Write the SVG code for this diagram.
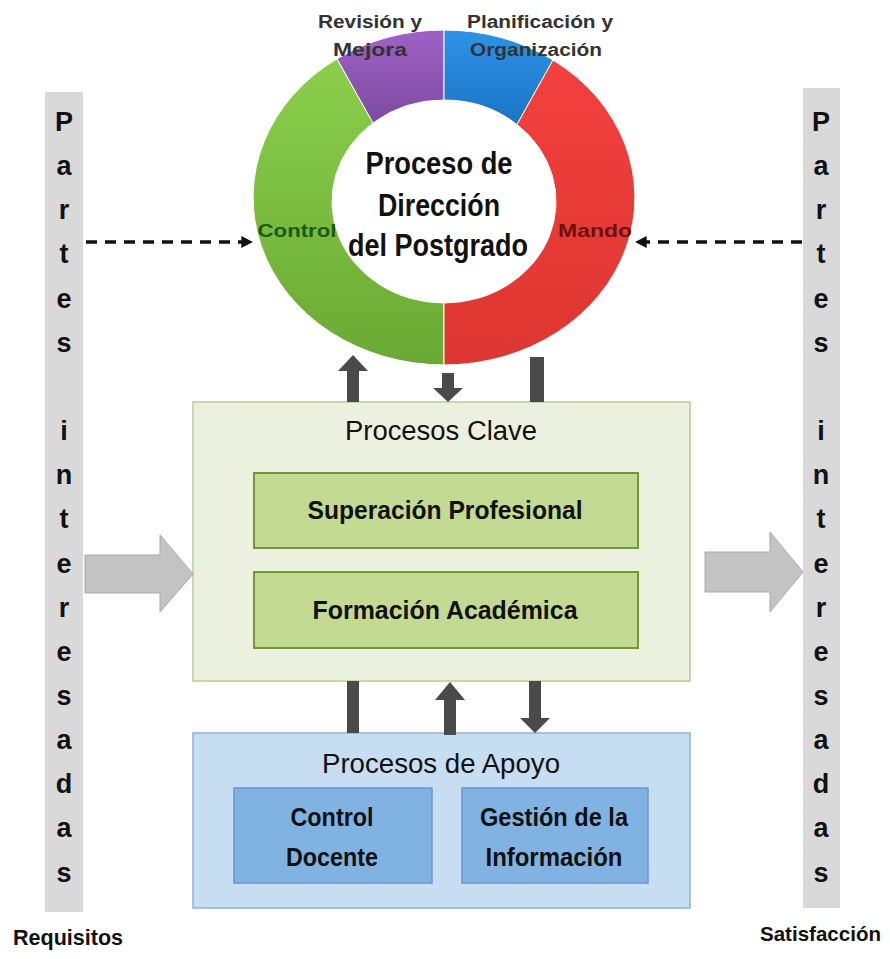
<svg xmlns="http://www.w3.org/2000/svg" width="890" height="959" viewBox="0 0 890 959">
<defs>
<linearGradient id="gGreen" x1="0" y1="0" x2="0" y2="1"><stop offset="0" stop-color="#8ccf4c"/><stop offset="1" stop-color="#6aa934"/></linearGradient>
<linearGradient id="gRed" x1="0" y1="0" x2="0" y2="1"><stop offset="0" stop-color="#f4403e"/><stop offset="1" stop-color="#dd3632"/></linearGradient>
<linearGradient id="gPurple" x1="0" y1="0" x2="0" y2="1"><stop offset="0" stop-color="#9e62c4"/><stop offset="1" stop-color="#7e4aa3"/></linearGradient>
<linearGradient id="gBlue" x1="0" y1="0" x2="0" y2="1"><stop offset="0" stop-color="#2e93e6"/><stop offset="1" stop-color="#1a74c6"/></linearGradient>
<marker id="dashHead" viewBox="0 0 10 10" refX="9" refY="5" markerWidth="3.4" markerHeight="3.4" orient="auto"><path d="M0,0 L10,5 L0,10 Z" fill="#111"/></marker>
<style>
text{font-family:"Liberation Sans",Arial,sans-serif;fill:#111}
.side{font-size:27px;font-weight:bold;text-anchor:middle}
.bar{fill:#d9d9d9}
.seg{stroke:#ffffff;stroke-width:1}
.rl{font-size:18px;font-weight:bold;fill:#333;text-anchor:middle}
.title{font-size:31px;font-weight:bold;text-anchor:middle}
.hdr{font-size:27px;text-anchor:middle}
.bx{font-size:25px;font-weight:bold;text-anchor:middle}
.dk{fill:#4a4a4a}
.dash{stroke:#111;stroke-width:3.5;stroke-dasharray:11 8;fill:none}
.big{fill:#c3c3c3;stroke:#a9a9a9;stroke-width:1}
</style>
</defs>

<g id="partes-izq">
<rect class="bar" x="45" y="92" width="38" height="820"/>
<text class="side" x="64" y="131">P</text>
<text class="side" x="64" y="175">a</text>
<text class="side" x="64" y="219">r</text>
<text class="side" x="64" y="263">t</text>
<text class="side" x="64" y="308">e</text>
<text class="side" x="64" y="352">s</text>
<text class="side" x="64" y="440">i</text>
<text class="side" x="64" y="484">n</text>
<text class="side" x="64" y="528">t</text>
<text class="side" x="64" y="573">e</text>
<text class="side" x="64" y="617">r</text>
<text class="side" x="64" y="661">e</text>
<text class="side" x="64" y="705">s</text>
<text class="side" x="64" y="749">a</text>
<text class="side" x="64" y="793">d</text>
<text class="side" x="64" y="837">a</text>
<text class="side" x="64" y="882">s</text>
</g>

<g id="partes-der">
<rect class="bar" x="803" y="88" width="37" height="820"/>
<text class="side" x="821" y="131">P</text>
<text class="side" x="821" y="175">a</text>
<text class="side" x="821" y="219">r</text>
<text class="side" x="821" y="263">t</text>
<text class="side" x="821" y="308">e</text>
<text class="side" x="821" y="352">s</text>
<text class="side" x="821" y="440">i</text>
<text class="side" x="821" y="484">n</text>
<text class="side" x="821" y="528">t</text>
<text class="side" x="821" y="573">e</text>
<text class="side" x="821" y="617">r</text>
<text class="side" x="821" y="661">e</text>
<text class="side" x="821" y="705">s</text>
<text class="side" x="821" y="749">a</text>
<text class="side" x="821" y="793">d</text>
<text class="side" x="821" y="837">a</text>
<text class="side" x="821" y="882">s</text>
</g>

<g id="proceso-direccion">
<path class="seg" fill="url(#gGreen)" d="M444,365 A191,167.5 0 0 1 337,58.8 L373,123 A112,101.5 0 0 0 444,303 Z"/>
<path class="seg" fill="url(#gPurple)" d="M337,58.8 A191,167.5 0 0 1 444,30 L444,100 A112,101.5 0 0 0 373,123 Z"/>
<path class="seg" fill="url(#gBlue)" d="M444,30 A191,167.5 0 0 1 553,60 L517,124.5 A112,101.5 0 0 0 444,100 Z"/>
<path class="seg" fill="url(#gRed)" d="M553,60 A191,167.5 0 0 1 444,365 L444,303 A112,101.5 0 0 0 517,124.5 Z"/>
<text class="rl" x="370" y="28" textLength="104" lengthAdjust="spacingAndGlyphs">Revisión y</text>
<text class="rl" x="370" y="56" textLength="74" lengthAdjust="spacingAndGlyphs">Mejora</text>
<text class="rl" x="540" y="28" textLength="146" lengthAdjust="spacingAndGlyphs">Planificación y</text>
<text class="rl" x="536" y="56" textLength="132" lengthAdjust="spacingAndGlyphs">Organización</text>
<text class="rl" x="297" y="237" style="fill:#1b5a12" textLength="79" lengthAdjust="spacingAndGlyphs">Control</text>
<text class="rl" x="595" y="237" style="fill:#6e1010" textLength="74" lengthAdjust="spacingAndGlyphs">Mando</text>
<text class="title" x="439" y="174" textLength="147" lengthAdjust="spacingAndGlyphs">Proceso de</text>
<text class="title" x="439" y="216" textLength="122" lengthAdjust="spacingAndGlyphs">Dirección</text>
<text class="title" x="438" y="256" textLength="180" lengthAdjust="spacingAndGlyphs">del Postgrado</text>
</g>

<g id="procesos-clave">
<rect x="193" y="402" width="497" height="279" fill="#ebf1de" stroke="#b8cc94" stroke-width="1.5"/>
<text class="hdr" x="441" y="440" textLength="192" lengthAdjust="spacingAndGlyphs">Procesos Clave</text>
</g>
<g id="superacion-profesional">
<rect x="254" y="473" width="384" height="75" fill="#c3da93" stroke="#6c9a36" stroke-width="2"/>
<text class="bx" x="445" y="519" textLength="275" lengthAdjust="spacingAndGlyphs">Superación Profesional</text>
</g>
<g id="formacion-academica">
<rect x="254" y="572" width="384" height="76" fill="#c3da93" stroke="#6c9a36" stroke-width="2"/>
<text class="bx" x="445" y="619" textLength="265" lengthAdjust="spacingAndGlyphs">Formación Académica</text>
</g>

<g id="procesos-apoyo">
<rect x="193" y="733" width="497" height="175" fill="#c6ddf2" stroke="#8fb2d8" stroke-width="1.5"/>
<text class="hdr" x="441" y="773" textLength="238" lengthAdjust="spacingAndGlyphs">Procesos de Apoyo</text>
</g>
<g id="control-docente">
<rect x="234" y="788" width="198" height="95" fill="#80b3e2" stroke="#6897cd" stroke-width="1.5"/>
<text class="bx" x="332" y="826" textLength="83" lengthAdjust="spacingAndGlyphs">Control</text>
<text class="bx" x="332" y="866" textLength="92" lengthAdjust="spacingAndGlyphs">Docente</text>
</g>
<g id="gestion-informacion">
<rect x="462" y="788" width="186" height="95" fill="#80b3e2" stroke="#6897cd" stroke-width="1.5"/>
<text class="bx" x="554" y="826" textLength="148" lengthAdjust="spacingAndGlyphs">Gestión de la</text>
<text class="bx" x="554" y="866" textLength="137" lengthAdjust="spacingAndGlyphs">Información</text>
</g>

<g id="etiquetas">
<text x="13" y="945" style="font-size:22px;font-weight:bold" textLength="110" lengthAdjust="spacingAndGlyphs">Requisitos</text>
<text x="760" y="941" style="font-size:21px;font-weight:bold" textLength="121" lengthAdjust="spacingAndGlyphs">Satisfacción</text>
</g>

<g id="connectors">
<line class="dash" x1="86" y1="242" x2="252" y2="242" marker-end="url(#dashHead)"/>
<line class="dash" x1="802" y1="242" x2="636" y2="242" marker-end="url(#dashHead)"/>
<polygon class="big" points="85,555 160,555 160,535 193,574 160,612 160,593 85,593"/>
<polygon class="big" points="705,552 770,552 770,532 803,572 770,612 770,592 705,592"/>
<polygon class="dk" points="347,402 359,402 359,371 368,371 353,355 338,371 347,371"/>
<polygon class="dk" points="442,373 454,373 454,388 463,388 448,402 433,388 442,388"/>
<rect class="dk" x="530" y="357" width="14" height="45"/>
<rect class="dk" x="347" y="681" width="12" height="52"/>
<polygon class="dk" points="444,735 456,735 456,700 465,700 450,682 435,700 444,700"/>
<polygon class="dk" points="529,681 541,681 541,718 550,718 535,733 520,718 529,718"/>
</g>
</svg>
